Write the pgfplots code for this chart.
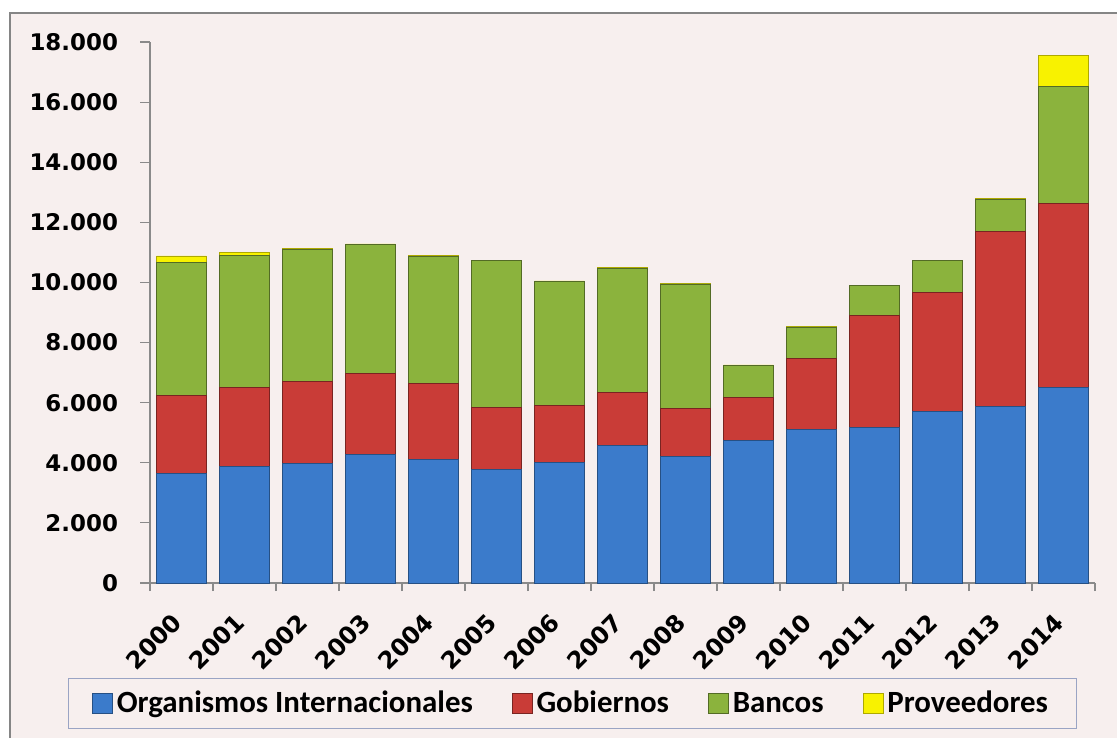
\documentclass[border=0pt]{standalone}
\usepackage{fontspec}
\setmainfont{DejaVu Sans}
\newfontfamily\legfont{Carlito}
\usepackage{pgfplots}
\pgfplotsset{compat=1.18}
\definecolor{bg}{HTML}{F7EFEE}
\definecolor{framegray}{HTML}{858585}
\definecolor{axgray}{HTML}{8A8A8A}
\definecolor{legborder}{HTML}{9AA4C4}
\definecolor{cblue}{HTML}{3B7BCB}
\definecolor{cred}{HTML}{C93C37}
\definecolor{cgreen}{HTML}{8BB33D}
\definecolor{cyellow}{HTML}{F8F200}
\begin{document}
\begin{tikzpicture}[x=1bp,y=1bp]
\useasboundingbox (-75,-77.5) rectangle (483.5,291.5);
\fill[bg] (-70,-77.5) rectangle (483.5,285);
\draw[framegray,line width=1bp] (-70,-77.5) -- (-70,285) -- (483.5,285);
\begin{axis}[
  at={(0,0)}, anchor=south west,
  scale only axis, width=472.5bp, height=270.5bp,
  xmin=-0.5, xmax=14.5, ymin=0, ymax=18000,
  scaled y ticks=false,
  ybar stacked, bar width=0.79,
  axis x line*=bottom, axis y line*=left,
  axis line style={draw=axgray, line width=0.6bp},
  tick align=outside,
  xtick={0,...,14},
  xticklabels={2000,2001,2002,2003,2004,2005,2006,2007,2008,2009,2010,2011,2012,2013,2014},
  major x tick style={draw=none},
  minor xtick={-0.5,0.5,...,14.5},
  minor tick length=4bp,
  minor x tick style={draw=axgray, line width=0.6bp},
  ytick={0,2000,4000,6000,8000,10000,12000,14000,16000,18000},
  yticklabels={0,2.000,4.000,6.000,8.000,10.000,12.000,14.000,16.000,18.000},
  major tick length=5bp,
  y tick style={draw=axgray, line width=0.6bp},
  yticklabel style={font=\bfseries\fontsize{11.5}{13}\selectfont, xshift=-7.5bp},
  xticklabel style={font=\bfseries\fontsize{12}{14}\selectfont, inner sep=0pt, xshift=-2bp, yshift=-12.5bp, rotate=45, anchor=east},
  axis background/.style={fill=bg},
  legend columns=4,
  legend style={at={(0.4466,-0.2227)}, anchor=center, draw=legborder, fill=bg,
    font=\legfont\bfseries\fontsize{15.5}{18}\selectfont, inner xsep=12bp, inner ysep=4.5bp,
    /tikz/every even column/.append style={column sep=17.5bp}},
  legend image code/.code={\draw[#1] (0bp,-5bp) rectangle (10bp,5bp);},
]
\addplot[fill=cblue, draw=cblue!65!black] coordinates {
(0,3650) (1,3890) (2,3980) (3,4280) (4,4115) (5,3780) (6,4000) (7,4590) (8,4200) (9,4735) (10,5120) (11,5170) (12,5710) (13,5880) (14,6510)};
\addplot[fill=cred, draw=cred!60!black] coordinates {
(0,2600) (1,2620) (2,2740) (3,2700) (4,2530) (5,2065) (6,1920) (7,1750) (8,1610) (9,1440) (10,2350) (11,3720) (12,3970) (13,5820) (14,6120)};
\addplot[fill=cgreen, draw=cgreen!60!black] coordinates {
(0,4420) (1,4400) (2,4390) (3,4270) (4,4230) (5,4880) (6,4100) (7,4140) (8,4140) (9,1070) (10,1050) (11,1010) (12,1050) (13,1070) (14,3900)};
\addplot[fill=cyellow, draw=cyellow!70!black] coordinates {
(0,210) (1,80) (2,30) (3,30) (4,20) (5,20) (6,30) (7,20) (8,20) (9,10) (10,10) (11,10) (12,10) (13,10) (14,1010)};
\legend{Organismos Internacionales, Gobiernos, Bancos, Proveedores}
\end{axis}
\end{tikzpicture}
\end{document}
